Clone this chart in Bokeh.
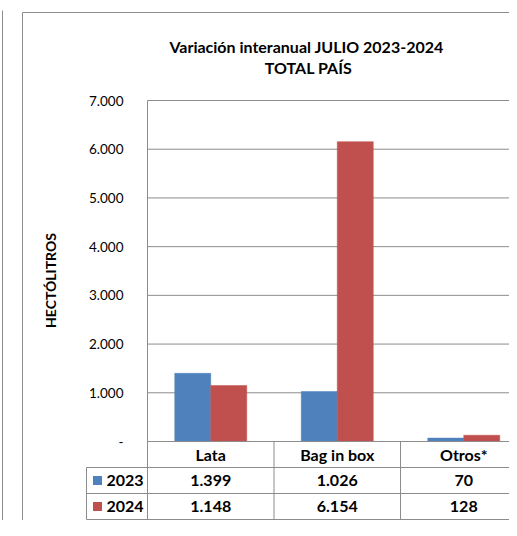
import math
from bokeh.plotting import figure
from bokeh.models import Range1d, FixedTicker, LinearAxis
from bokeh.core.properties import value
from bokeh.embed import file_html
from bokeh.resources import INLINE

# ---------------- data ----------------
categories = ["Lata", "Bag in box", "Otros*"]
years = ["2023", "2024"]
values_2023 = [1399, 1026, 70]
values_2024 = [1148, 6154, 128]
y_ticks = [0, 1000, 2000, 3000, 4000, 5000, 6000, 7000]
y_tick_labels = ["-", "1.000", "2.000", "3.000", "4.000", "5.000", "6.000", "7.000"]
title_lines = ["Variación interanual  JULIO 2023-2024", "TOTAL PAÍS"]
y_label = "HECTÓLITROS"
series_colors = ["#4F81BD", "#C0504D"]

# ---------------- layout (pixels, figure coordinates) ----------------
W, H = 509, 520
AX_X = 147          # pixel x of the value axis
COL_W = 126.5       # pixel width of one category column
Y0_PX = 441         # pixel y of value 0
YTOP_PX = 100       # pixel y of top tick
ROW_H = 26.0        # table row height
BAR_PX = 36
LEG_PX = 61         # width of legend column in the table
GRID = "#8c8c8c"
FONT = "Lato"

ymax = y_ticks[-1]
ppu = (Y0_PX - YTOP_PX) / ymax


def px_x(px):
    return (px - AX_X) / COL_W


def px_y(py):
    return (Y0_PX - py) / ppu


x_range = Range1d(px_x(0), px_x(W))
y_range = Range1d(px_y(H), px_y(0))

p = figure(width=W, height=H, x_range=x_range, y_range=y_range,
           x_axis_type=None, y_axis_type=None, output_backend="svg",
           toolbar_location=None, min_border=0, outline_line_color=None,
           background_fill_color="white", border_fill_color="white")
p.xgrid.visible = False
p.ygrid.visible = False
p.extra_y_ranges = {"table": Range1d(start=(H - Y0_PX) / ROW_H, end=-Y0_PX / ROW_H)}

# page edge line and outer chart border
p.segment(x0=[px_x(2)], x1=[px_x(2)], y0=[px_y(10)], y1=[px_y(H + 50)],
          line_color=GRID, line_width=1)
p.quad(left=[px_x(22)], right=[px_x(W + 50)], top=[px_y(12)], bottom=[px_y(H + 50)],
       fill_color=None, line_color=GRID, line_width=1)

# gridlines
gt = [t for t in y_ticks if t > 0]
p.segment(x0=[0] * len(gt), x1=[x_range.end + 1] * len(gt), y0=gt, y1=gt,
          line_color=GRID, line_width=1)

# bars
bw = BAR_PX / COL_W
n = len(categories)
for k, vals in enumerate([values_2023, values_2024]):
    xs = [i + 0.5 + (k - 0.5) * bw for i in range(n)]
    p.vbar(x=xs, top=vals, bottom=0, width=bw, fill_color=series_colors[k],
           line_color=series_colors[k], line_width=0.5)

# y axis
yaxis = LinearAxis(ticker=FixedTicker(ticks=y_ticks),
                   major_label_overrides={t: l for t, l in zip(y_ticks, y_tick_labels)},
                   fixed_location=0, axis_line_color=None,
                   major_tick_line_color=None, minor_tick_line_color=None,
                   major_tick_in=0, major_tick_out=0, major_label_standoff=24,
                   major_label_text_font=FONT, major_label_text_font_size="13.5px",
                   major_label_text_color="#000000")
p.add_layout(yaxis, "left")

# value axis line (plot area part)
p.segment(x0=[0], x1=[0], y0=[0], y1=[ymax], line_color=GRID, line_width=1)

# ---------------- data table ----------------
nrows = 1 + len(years)
leg_left = px_x(AX_X - LEG_PX)
# horizontal lines
p.segment(x0=[0], x1=[x_range.end + 1], y0=[0], y1=[0], y_range_name="table",
          line_color=GRID, line_width=1)
hl = list(range(1, nrows + 1))
p.segment(x0=[leg_left] * len(hl), x1=[x_range.end + 1] * len(hl), y0=hl, y1=hl,
          y_range_name="table", line_color=GRID, line_width=1)
# vertical lines
vl = list(range(0, n + 1))
p.segment(x0=vl, x1=vl, y0=[0] * len(vl), y1=[nrows] * len(vl), y_range_name="table",
          line_color=GRID, line_width=1)
p.segment(x0=[leg_left], x1=[leg_left], y0=[1], y1=[nrows], y_range_name="table",
          line_color=GRID, line_width=1)

TFS = value("16px")
# header
p.text(x=[i + 0.5 for i in range(n)], y=[0.5] * n, text=categories, y_range_name="table",
       text_font=value(FONT), text_font_style="bold", text_font_size=TFS,
       text_align="center", text_baseline="middle", text_color="#000000")


def fmt(v):
    return f"{v:,}".replace(",", ".")


for r, (yr, vals) in enumerate(zip(years, [values_2023, values_2024])):
    yrow = r + 1.5
    p.text(x=[i + 0.5 for i in range(n)], y=[yrow] * n, text=[fmt(v) for v in vals],
           y_range_name="table", text_font=value(FONT), text_font_style="bold",
           text_font_size=TFS, text_align="center", text_baseline="middle",
           text_color="#000000")
    p.scatter(x=[px_x(97)], y=[yrow], marker="square", size=9,
              fill_color=series_colors[r], line_color=None, y_range_name="table")
    p.text(x=[px_x(106)], y=[yrow], text=[yr], y_range_name="table",
           text_font=value(FONT), text_font_style="bold", text_font_size=TFS,
           text_align="left", text_baseline="middle", text_color="#000000")

# title
p.text(x=[px_x(308)] * 2, y=[px_y(46), px_y(67)], text=title_lines,
       text_font=value(FONT), text_font_style="bold", text_font_size=value("16px"),
       text_align="center", text_baseline="middle", text_color="#000000")

# axis title
p.text(x=[px_x(49.5)], y=[px_y(280)], text=[y_label], angle=math.pi / 2,
       text_font=value(FONT), text_font_style="bold", text_font_size=value("14px"),
       text_align="center", text_baseline="middle", text_color="#000000")

open("out.html", "w").write(file_html(p, INLINE))
